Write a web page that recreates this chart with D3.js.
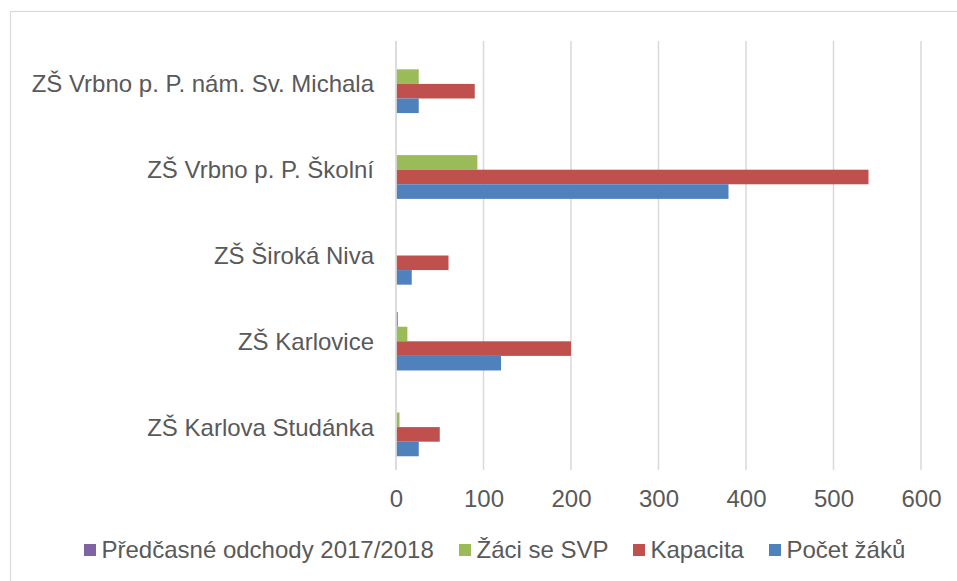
<!DOCTYPE html>
<html>
<head>
<meta charset="utf-8">
<script src="https://cdn.jsdelivr.net/npm/d3@7"></script>
<style>
  body { margin: 0; background: #fff; }
  svg { display: block; font-family: 'Liberation Sans', Arial, sans-serif; }
</style>
</head>
<body>
<div id="chart"></div>
<script>
// categories listed top to bottom as in the picture
const schools = [
  'ZŠ Vrbno p. P. nám. Sv. Michala',
  'ZŠ Vrbno p. P. Školní',
  'ZŠ Široká Niva',
  'ZŠ Karlovice',
  'ZŠ Karlova Studánka'
];

// series listed top to bottom inside each group
const seriesNames = ['Předčasné odchody 2017/2018', 'Žáci se SVP', 'Kapacita', 'Počet žáků'];
const seriesColors = ['#8064a2', '#9bbb59', '#c0504d', '#4f81bd'];

const predcasne = [0, 0, 0, 2, 0];
const svp = [26, 93, 0, 13, 4];
const kapacita = [90, 540, 60, 200, 50];
const pocetZaku = [26, 380, 18, 120, 26];
const seriesValues = [predcasne, svp, kapacita, pocetZaku];

const xTicks = [0, 100, 200, 300, 400, 500, 600];

const W = 957, H = 581;
const margin = { left: 396, right: 36, top: 41, bottom: 111 };
const fontSize = '24px';

const svg = d3.select('#chart').append('svg')
  .attr('width', W)
  .attr('height', H);

// chart frame (only top and left edges show in the picture)
svg.append('rect')
  .attr('x', 10.5).attr('y', 11.5)
  .attr('width', W + 20).attr('height', H + 20)
  .attr('fill', 'none')
  .attr('stroke', '#d9d9d9')
  .attr('stroke-width', 1.2);

const x = d3.scaleLinear()
  .domain([0, 600])
  .range([margin.left, W - margin.right]);

const y = d3.scaleBand()
  .domain(schools)
  .range([margin.top, H - margin.bottom])
  .paddingInner(0.32)
  .paddingOuter(0.16);

const ySeries = d3.scaleBand()
  .domain(seriesNames)
  .range([0, y.bandwidth()]);

// gridlines
svg.append('g')
  .selectAll('line')
  .data(xTicks.slice(1))
  .join('line')
  .attr('x1', d => x(d)).attr('x2', d => x(d))
  .attr('y1', margin.top).attr('y2', H - margin.bottom)
  .attr('stroke', '#d9d9d9')
  .attr('stroke-width', 1.5);

// bars
const groups = svg.append('g')
  .selectAll('g')
  .data(schools)
  .join('g')
  .attr('transform', d => 'translate(0,' + y(d) + ')');

groups.selectAll('rect')
  .data((d, i) => seriesNames.map((s, j) => ({ s: s, v: seriesValues[j][i], c: seriesColors[j] })))
  .join('rect')
  .attr('x', x(0))
  .attr('y', d => ySeries(d.s))
  .attr('width', d => x(d.v) - x(0))
  .attr('height', ySeries.bandwidth())
  .attr('fill', d => d.c);

// vertical axis line
svg.append('line')
  .attr('x1', x(0)).attr('x2', x(0))
  .attr('y1', margin.top).attr('y2', H - margin.bottom)
  .attr('stroke', '#d9d9d9')
  .attr('stroke-width', 1.8);

// category labels
svg.append('g')
  .selectAll('text')
  .data(schools)
  .join('text')
  .attr('x', 374)
  .attr('y', d => y(d) + y.bandwidth() / 2)
  .attr('dy', '0.35em')
  .attr('text-anchor', 'end')
  .attr('fill', '#595959')
  .style('font-size', fontSize)
  .text(d => d);

// x tick labels
const xAxis = svg.append('g')
  .attr('transform', 'translate(0,' + (H - margin.bottom) + ')')
  .call(d3.axisBottom(x).tickValues(xTicks).tickSize(0).tickPadding(20));
xAxis.select('.domain').remove();
xAxis.selectAll('text')
  .attr('fill', '#595959')
  .style('font-size', fontSize)
  .style('font-family', "'Liberation Sans', Arial, sans-serif");

// legend
const legendX = [84, 459, 633, 769];
const legend = svg.append('g')
  .selectAll('g')
  .data(seriesNames)
  .join('g')
  .attr('transform', (d, i) => 'translate(' + legendX[i] + ',550)');

legend.append('rect')
  .attr('x', 0).attr('y', -6)
  .attr('width', 12).attr('height', 12)
  .attr('fill', (d, i) => seriesColors[i]);

legend.append('text')
  .attr('x', 17.5)
  .attr('y', 0)
  .attr('dy', '0.35em')
  .attr('fill', '#595959')
  .style('font-size', fontSize)
  .text(d => d);
</script>
</body>
</html>
